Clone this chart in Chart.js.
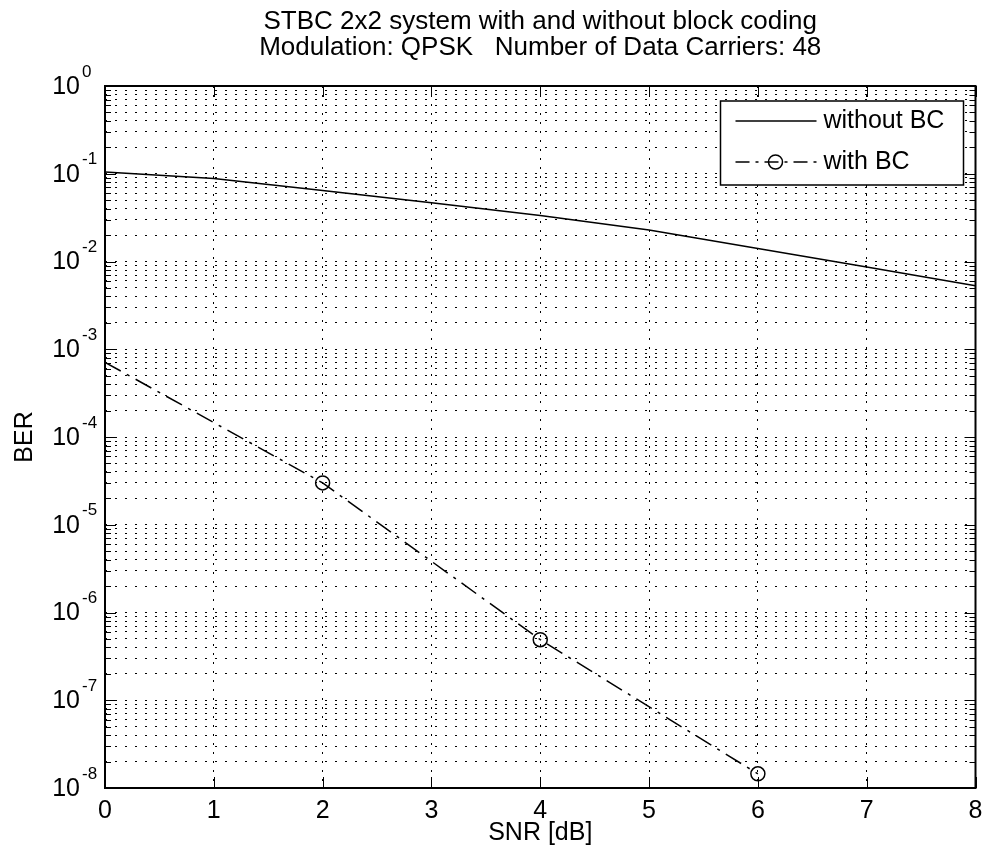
<!DOCTYPE html>
<html>
<head>
<meta charset="utf-8">
<script src="https://cdn.jsdelivr.net/npm/chart.js@4.4.0/dist/chart.umd.min.js"></script>
<style>
  html, body { margin: 0; padding: 0; background: #fff; }
  #wrap { width: 984px; height: 858px; }
</style>
</head>
<body>
<div id="wrap"><canvas id="myChart"></canvas></div>
<script>
// values
const snr = [0, 1, 2, 3, 4, 5, 6, 7, 8];
const berWithoutBC = [0.105, 0.088, 0.0645, 0.0468, 0.0335, 0.0229, 0.0141, 0.00865, 0.0053];
const snrWithBC = [0, 2, 4, 6];
const berWithBC = [7.1e-4, 3.0e-5, 4.9e-7, 1.45e-8];
const showMarker = [false, true, true, true];

const xTicks = [0, 1, 2, 3, 4, 5, 6, 7, 8];
const yDecades = [-8, -7, -6, -5, -4, -3, -2, -1, 0];
const titleLines = ['STBC 2x2 system with and without block coding', 'Modulation: QPSK   Number of Data Carriers: 48'];
const seriesNames = ['without BC', 'with BC'];

const FONT = 'Liberation Sans, Arial, Helvetica, sans-serif';

// every minor value of each decade, 1..9 x 10^d
var yTickValues = [];
yDecades.forEach(function (d, i) {
  if (i === yDecades.length - 1) { yTickValues.push(Math.pow(10, d)); return; }
  for (let m = 1; m <= 9; m++) yTickValues.push(m * Math.pow(10, d));
});

function decadeOf(v) {
  const e = Math.round(Math.log10(v));
  return Math.abs(v / Math.pow(10, e) - 1) < 1e-6 ? e : null;
}

const dashDot = [18, 7, 3, 7];

// title centred over the axes
const axesTitle = {
  id: 'axesTitle',
  afterDraw(chart) {
    const { ctx, chartArea: a } = chart;
    const cx = (a.left + a.right) / 2;
    ctx.save();
    ctx.fillStyle = '#000';
    ctx.font = '26px ' + FONT;
    ctx.textAlign = 'center';
    ctx.textBaseline = 'middle';
    ctx.fillText(titleLines[0], cx, 22);
    ctx.fillText(titleLines[1], cx, 48);
    ctx.restore();
  }
};

// y labels as 10 with a raised exponent
const decadeLabels = {
  id: 'decadeLabels',
  afterDraw(chart) {
    const { ctx, chartArea: a, scales } = chart;
    ctx.save();
    ctx.fillStyle = '#000';
    ctx.textBaseline = 'middle';
    scales.y.ticks.forEach(function (t) {
      const e = decadeOf(t.value);
      if (e === null) return;
      const py = scales.y.getPixelForValue(t.value);
      ctx.font = '25px ' + FONT;
      ctx.textAlign = 'right';
      ctx.fillText('10', a.left - 25, py + 1);
      ctx.font = '17px ' + FONT;
      ctx.textAlign = 'left';
      ctx.fillText(String(e).replace('-', '\u2011'), a.left - 23, py - 14);
    });
    ctx.restore();
  }
};

// box + inward ticks like matlab
const axesBox = {
  id: 'axesBox',
  afterDatasetsDraw(chart) {
    const { ctx, chartArea: a, scales } = chart;
    ctx.save();
    ctx.strokeStyle = '#000';
    ctx.lineWidth = 1;
    ctx.beginPath();
    scales.x.ticks.forEach(function (t) {
      const px = Math.round(scales.x.getPixelForValue(t.value)) + 0.5;
      ctx.moveTo(px, a.bottom); ctx.lineTo(px, a.bottom - 11);
      ctx.moveTo(px, a.top); ctx.lineTo(px, a.top + 11);
    });
    scales.y.ticks.forEach(function (t) {
      const py = Math.round(scales.y.getPixelForValue(t.value)) + 0.5;
      const len = decadeOf(t.value) !== null ? 11 : 6;
      ctx.moveTo(a.left, py); ctx.lineTo(a.left + len, py);
      ctx.moveTo(a.right, py); ctx.lineTo(a.right - len, py);
    });
    ctx.stroke();
    ctx.lineWidth = 2;
    ctx.strokeRect(a.left, a.top, a.right - a.left, a.bottom - a.top);
    ctx.restore();
  }
};

// legend box inside the axes, top right
const boxLegend = {
  id: 'boxLegend',
  afterDraw(chart) {
    const { ctx, chartArea: a } = chart;
    const w = 243, h = 84;
    const x0 = a.right - 12 - w, y0 = a.top + 15;
    ctx.save();
    ctx.fillStyle = '#fff';
    ctx.fillRect(x0, y0, w, h);
    ctx.strokeStyle = '#000';
    ctx.lineWidth = 1.5;
    ctx.strokeRect(x0, y0, w, h);
    const rows = [y0 + 20, y0 + 61];
    ctx.lineWidth = 1.5;
    ctx.beginPath();
    ctx.moveTo(x0 + 15, rows[0]); ctx.lineTo(x0 + 96, rows[0]);
    ctx.stroke();
    ctx.setLineDash([14, 6, 3, 6]);
    ctx.beginPath();
    ctx.moveTo(x0 + 15, rows[1]); ctx.lineTo(x0 + 96, rows[1]);
    ctx.stroke();
    ctx.setLineDash([]);
    ctx.beginPath();
    ctx.arc(x0 + 55, rows[1], 7, 0, Math.PI * 2);
    ctx.stroke();
    ctx.fillStyle = '#000';
    ctx.font = '25px ' + FONT;
    ctx.textBaseline = 'middle';
    ctx.fillText(seriesNames[0], x0 + 103, rows[0]);
    ctx.fillText(seriesNames[1], x0 + 103, rows[1]);
    ctx.restore();
  }
};

const ctx = document.getElementById('myChart');
var myChart = new Chart(ctx, {
  type: 'line',
  data: {
    datasets: [{
      label: seriesNames[0],
      data: snr.map((x, i) => ({ x: x, y: berWithoutBC[i] })),
      borderColor: '#000',
      borderWidth: 1.5,
      pointRadius: 0,
      tension: 0,
      fill: false
    }, {
      label: seriesNames[1],
      data: snrWithBC.map((x, i) => ({ x: x, y: berWithBC[i] })),
      borderColor: '#000',
      borderWidth: 1.5,
      borderDash: dashDot,
      pointRadius: showMarker.map(s => s ? 7 : 0),
      pointBorderWidth: 1.5,
      pointBorderColor: '#000',
      pointBackgroundColor: 'rgba(0,0,0,0)',
      tension: 0,
      fill: false
    }]
  },
  options: {
    responsive: true,
    maintainAspectRatio: false,
    animation: false,
    layout: { padding: { left: 0, right: 7, top: 86, bottom: 0 } },
    plugins: {
      legend: { display: false },
      tooltip: { enabled: false },
      title: { display: false }
    },
    scales: {
      x: {
        type: 'linear',
        min: 0,
        max: 8,
        afterBuildTicks: function (scale) { scale.ticks = xTicks.map(v => ({ value: v })); },
        afterFit: function (scale) { scale.height = 70; scale.paddingLeft = 0; scale.paddingRight = 0; },
        ticks: { color: '#000', font: { family: FONT, size: 25 }, padding: 8, autoSkip: false, maxRotation: 0 },
        grid: { color: '#000', lineWidth: 1, drawTicks: false },
        border: { display: false, dash: [2, 7] },
        title: { display: true, text: 'SNR [dB]', color: '#000', font: { family: FONT, size: 25 }, padding: { top: 0, bottom: 10 } }
      },
      y: {
        type: 'logarithmic',
        min: 1e-8,
        max: 1,
        afterBuildTicks: function (scale) { scale.ticks = yTickValues.map(v => ({ value: v })); },
        afterFit: function (scale) { scale.width = 105; scale.paddingTop = 0; scale.paddingBottom = 0; },
        ticks: {
          color: '#000',
          font: { family: FONT, size: 24 },
          autoSkip: false,
          callback: function () { return ''; }
        },
        grid: { color: '#000', lineWidth: 1, drawTicks: false },
        border: { display: false, dash: [2, 8] },
        title: { display: true, text: 'BER', color: '#000', font: { family: FONT, size: 25 }, padding: { top: 10, bottom: 0 } }
      }
    }
  },
  plugins: [axesBox, boxLegend, axesTitle, decadeLabels]
});
</script>
</body>
</html>
